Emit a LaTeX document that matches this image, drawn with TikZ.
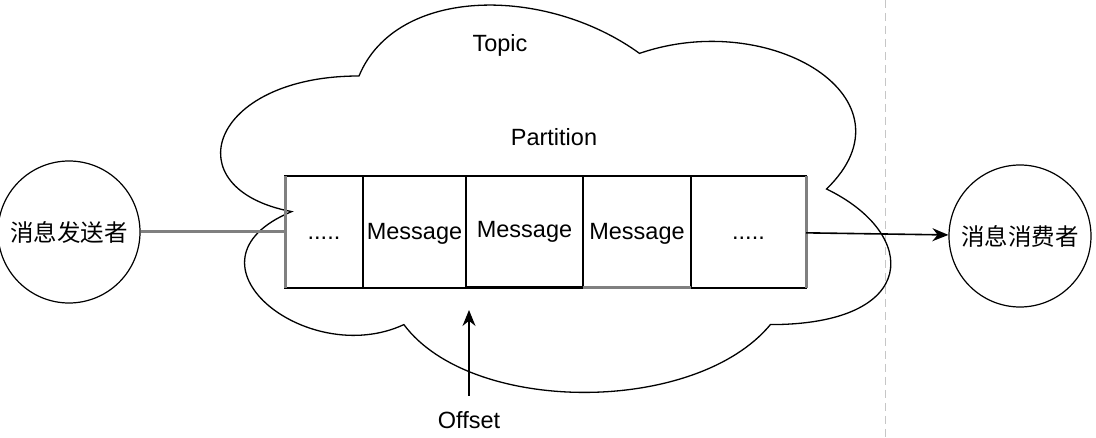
\documentclass[tikz,border=0pt]{standalone}
\usepackage{fontspec}
\setmainfont{Liberation Sans}
\newfontfamily\cjk{Noto Sans CJK SC}
\usetikzlibrary{positioning,arrows.meta}

\begin{document}
\begin{tikzpicture}
        [>={Stealth[length=16pt,width=13pt]}, x=1pt, y=-1pt,
         cell/.style={draw, line width=1.3pt, minimum height=112pt, inner sep=0pt, outer sep=0pt,
                      text height=16pt, text depth=0pt, font=\fontsize{23.5}{26}\selectfont},
         role/.style={draw, circle, line width=1.2pt, minimum size=142pt, inner sep=0pt,
                      font=\cjk\fontsize{23.5}{26}\selectfont},
         caption/.style={font=\fontsize{23.5}{26}\selectfont},
         greyedge/.style={draw=gray, line width=3pt}]

        \useasboundingbox (0,0) rectangle (1096,438);

        % divider
        \coordinate (divtop) at (885,0);
        \coordinate (divbot) at (885,438);
        \draw[gray!45, line width=1pt, dash pattern=on 8pt off 5pt] (divtop) -- (divbot);

        % topic cloud
        \begin{scope}[shift={(172,-37)}, x=748pt, y=-452pt]
            \draw[line width=1.3pt] (0.25,0.25)
                .. controls (0.05,0.25) and (0,0.5) .. (0.16,0.55)
                .. controls (0,0.66) and (0.18,0.9) .. (0.31,0.8)
                .. controls (0.4,1) and (0.7,1) .. (0.8,0.8)
                .. controls (1,0.8) and (1,0.6) .. (0.875,0.5)
                .. controls (1,0.3) and (0.8,0.1) .. (0.625,0.2)
                .. controls (0.5,0.05) and (0.3,0.05) .. (0.25,0.25) -- cycle;
        \end{scope}

        \node[caption] (topic) at (500,45) {Topic};
        \node[caption] (partition) at (554,137) {Partition};

        % partition cells
        \node[cell, minimum width=78pt] (dotsl) at (324,232) {.....};
        \node[cell, minimum width=103pt, right=0pt of dotsl] (msga) {Message};
        \node[cell, minimum width=117pt, right=0pt of msga] (msgb) {\raisebox{2pt}{Message}};
        \node[cell, minimum width=108pt, right=0pt of msgb] (msgc) {Message};
        \node[cell, minimum width=115pt, right=0pt of msgc] (dotsr) {.....};

        \draw[greyedge] (dotsl.north west) -- (dotsl.south west);
        \draw[greyedge] (dotsr.north east) -- (dotsr.south east);
        \draw[line width=3pt] (msgb.south west) -- (msgb.south east);
        \draw[greyedge] (msgc.south west) -- (msgc.south east);

        % producer and consumer
        \node[role] (sender) at (69,232) {消息发送者};
        \node[role] (consumer) at (1020,236) {消息消费者};

        \draw[gray, line width=3pt] (sender) -- (dotsl);
        \draw[->, line width=1.6pt] (dotsr) -- (consumer);

        % offset
        \node[caption] (offset) at (469,420) {Offset};
        \coordinate (offsettip) at (469,310);
        \draw[->, line width=1.6pt, shorten <=12pt] (offset) -- (offsettip);

    \end{tikzpicture}
\end{document}
